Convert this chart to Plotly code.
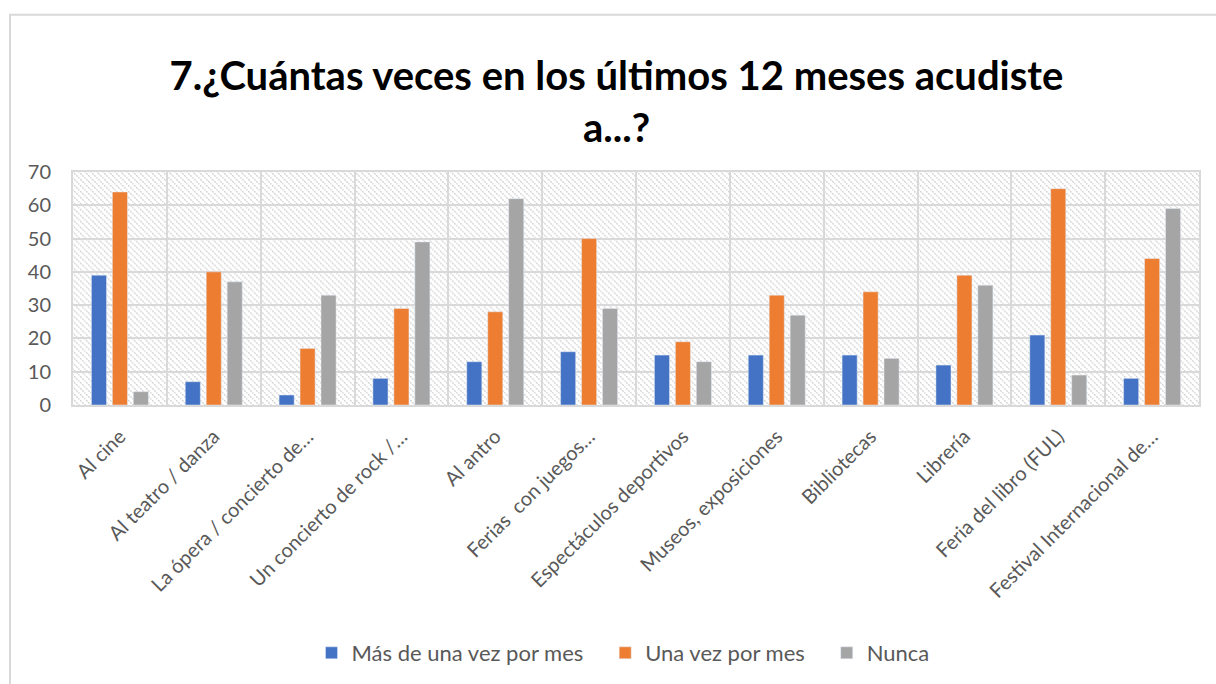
import base64
import plotly.graph_objects as go

# Datos
CATEGORIAS = [
    "Al cine",
    "Al teatro / danza",
    "La ópera / concierto de…",
    "Un concierto de rock /…",
    "Al antro",
    "Ferias  con juegos…",
    "Espectáculos deportivos",
    "Museos, exposiciones",
    "Bibliotecas",
    "Librería",
    "Feria del libro (FUL)",
    "Festival Internacional de…",
]
MAS_DE_UNA_VEZ = [39, 7, 3, 8, 13, 16, 15, 15, 15, 12, 21, 8]
UNA_VEZ = [64, 40, 17, 29, 28, 50, 19, 33, 34, 39, 65, 44]
NUNCA = [4, 37, 33, 49, 62, 29, 13, 27, 14, 36, 9, 59]
Y_TICKS = [0, 10, 20, 30, 40, 50, 60, 70]
SERIES = ["Más de una vez por mes", "Una vez por mes", "Nunca"]

AZUL = "#4472c4"
NARANJA = "#ed7d31"
GRIS = "#a5a5a5"
GRID = "#d9d9d9"
TEXTO = "#595959"
FUENTE = "Lato"

# Geometría en píxeles de la figura
W, H = 1216, 684
L, R, T, B = 73, 17, 172, 278
PW, PH = W - L - R, H - T - B

# Fondo rayado del área de trazado (imagen SVG embebida)
svg = f"""<svg xmlns='http://www.w3.org/2000/svg' width='{PW}' height='{PH}' viewBox='0 0 {PW} {PH}' preserveAspectRatio='none'>
<defs><pattern id='p' patternUnits='userSpaceOnUse' width='6' height='6'>
<path d='M-1,-1 L7,7 M-1,5 L1,7 M5,-1 L7,1' stroke='#cfcfcf' stroke-width='1.3' stroke-dasharray='2,1'/>
</pattern></defs>
<rect width='100%' height='100%' fill='white'/>
<rect width='100%' height='100%' fill='url(#p)'/>
</svg>"""
fondo = "data:image/svg+xml;base64," + base64.b64encode(svg.encode()).decode()

# espacios finos al final para separar las entradas de la leyenda como en el original
RELLENO = "\u00a0\u00a0\u00a0"

fig = go.Figure()
for nombre, valores, color, pad in [
    (SERIES[0], MAS_DE_UNA_VEZ, AZUL, RELLENO),
    (SERIES[1], UNA_VEZ, NARANJA, RELLENO),
    (SERIES[2], NUNCA, GRIS, ""),
]:
    fig.add_trace(go.Bar(x=CATEGORIAS, y=valores, name=nombre + pad, marker_color=color))


def px_x(v):
    return (v - L) / PW


def px_y(v):
    return (H - B - v) / PH


fig.update_layout(
    width=W, height=H,
    margin=dict(l=L, r=R, t=T, b=B),
    paper_bgcolor="white",
    plot_bgcolor="rgba(0,0,0,0)",
    font=dict(family=FUENTE, size=20, color=TEXTO),
    barmode="group",
    bargap=0.33,
    bargroupgap=0.28,
    title=dict(
        text="<b>7.¿Cuántas veces en los últimos 12 meses acudiste<br>a...?</b>",
        x=0.507, xanchor="center", y=1 - 90 / H, yanchor="middle",
        font=dict(family=FUENTE, size=40, color="black", weight=900),
    ),
    xaxis=dict(
        type="category", tickangle=-45, tickson="boundaries",
        showgrid=True, gridcolor=GRID, gridwidth=2,
        showline=True, linecolor=GRID, linewidth=2, mirror=True,
        ticks="", ticklabelstandoff=10, tickfont=dict(size=20, color=TEXTO),
    ),
    yaxis=dict(
        range=[0, 70], tickvals=Y_TICKS,
        showgrid=True, gridcolor=GRID, gridwidth=2,
        showline=True, linecolor=GRID, linewidth=2, mirror=True,
        zeroline=False, ticks="", ticklabelstandoff=16,
        tickfont=dict(size=20, color=TEXTO),
    ),
    legend=dict(
        orientation="h", x=px_x(623), xanchor="center", y=px_y(653), yanchor="middle",
        font=dict(size=22, color=TEXTO), itemwidth=30, traceorder="normal",
    ),
    images=[dict(
        source=fondo, xref="paper", yref="paper", x=0, y=1, sizex=1, sizey=1,
        xanchor="left", yanchor="top", sizing="stretch", layer="below",
    )],
    shapes=[dict(
        type="rect", xref="paper", yref="paper",
        x0=px_x(10), x1=px_x(1240), y0=px_y(700), y1=px_y(14),
        line=dict(color=GRID, width=2), fillcolor="rgba(0,0,0,0)", layer="below",
    )],
)

fig.write_html(
    "out.html",
    config={"displayModeBar": False},
    post_script="document.body.style.margin='0';",
)
